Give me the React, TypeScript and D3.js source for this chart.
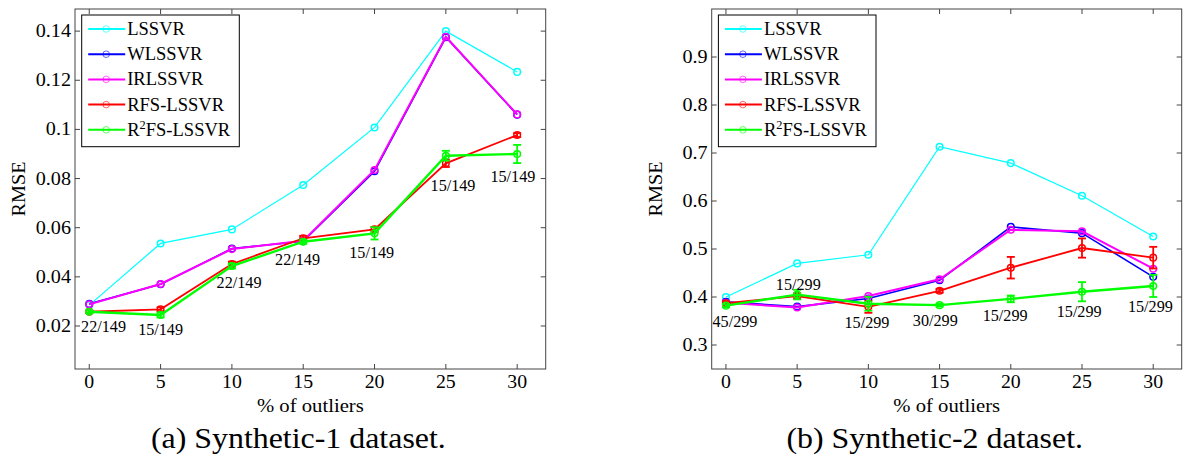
import React from "react";
import * as d3 from "d3";

// x values (% of outliers) shared by both panels
const outliers = [0, 5, 10, 15, 20, 25, 30];
const methods = ["LSSVR", "WLSSVR", "IRLSSVR", "RFS-LSSVR", "R2FS-LSSVR"];
const colors = ["#00ffff", "#0000ff", "#ff00ff", "#ff0000", "#00ff00"];
const widths = [1.2, 1.6, 2, 1.8, 2.4];

// Synthetic-1
const syn1LSSVR = [0.0285, 0.0536, 0.0593, 0.0774, 0.1008, 0.14, 0.1234];
const syn1WLSSVR = [0.029, 0.037, 0.0515, 0.0545, 0.083, 0.1375, 0.106];
const syn1IRLSSVR = [0.0288, 0.0371, 0.0513, 0.0547, 0.0835, 0.1377, 0.1061];
const syn1RFS = [0.0258, 0.0268, 0.0452, 0.0557, 0.0593, 0.0862, 0.0977];
const syn1RFSErr = [0.0005, 0.0008, 0.001, 0.001, 0.001, 0.0015, 0.0008];
const syn1R2FS = [0.0258, 0.0245, 0.0444, 0.0543, 0.0577, 0.0893, 0.09];
const syn1R2FSErr = [0.0005, 0.001, 0.001, 0.0008, 0.0025, 0.002, 0.0037];
const syn1Labels = ["22/149", "15/149", "22/149", "22/149", "15/149", "15/149", "15/149"];
const syn1LabelX = [1.0, 5.0, 10.5, 14.6, 19.8, 25.5, 29.7];
const syn1LabelY = [0.0177, 0.0163, 0.0353, 0.0448, 0.0475, 0.075, 0.0787];
const syn1Ticks = [0.02, 0.04, 0.06, 0.08, 0.1, 0.12, 0.14];

// Synthetic-2
const syn2LSSVR = [0.4, 0.47, 0.488, 0.713, 0.679, 0.611, 0.526];
const syn2WLSSVR = [0.39, 0.38, 0.397, 0.435, 0.546, 0.533, 0.442];
const syn2IRLSSVR = [0.388, 0.378, 0.402, 0.437, 0.54, 0.537, 0.459];
const syn2RFS = [0.387, 0.402, 0.3795, 0.413, 0.461, 0.502, 0.482];
const syn2RFSErr = [0.003, 0.006, 0.0125, 0.004, 0.0225, 0.02, 0.0225];
const syn2R2FS = [0.382, 0.405, 0.386, 0.383, 0.396, 0.411, 0.423];
const syn2R2FSErr = [0.003, 0.01, 0.0145, 0.003, 0.007, 0.02, 0.023];
const syn2Labels = ["45/299", "15/299", "15/299", "30/299", "15/299", "15/299", "15/299"];
const syn2LabelX = [0.63, 5.08, 9.9, 14.7, 19.6, 24.8, 29.8];
const syn2LabelY = [0.338, 0.4156, 0.3347, 0.3394, 0.3504, 0.3575, 0.3691];
const syn2Ticks = [0.3, 0.4, 0.5, 0.6, 0.7, 0.8, 0.9];

const FONT = "'Liberation Serif', Tinos, 'DejaVu Serif', serif";
const AXIS = "#444";

const T = ({ x, y, sx = 1, size, anchor = "start", rot = 0, children }: any) => (
  <text
    transform={`translate(${x},${y}) rotate(${rot}) scale(${sx},1)`}
    style={{ fontFamily: FONT, fontSize: size }}
    textAnchor={anchor}
    fill="#000"
  >
    {children}
  </text>
);

const Panel = ({ left, right, yDomain, yTicks, series, errs, labels, labelX, labelY, caption }: any) => {
  const top = 9;
  const bottom = 369;
  const x = d3.scaleLinear().domain([-1, 32]).range([left, right]);
  const y = d3.scaleLinear().domain(yDomain).range([bottom, top]);
  const line = d3
    .line<number>()
    .x((_, i) => x(outliers[i]))
    .y((d) => y(d));
  const tk = 5;
  const fmt = (v: number) => String(+v.toFixed(2));
  const cx = (left + right) / 2;

  return (
    <g>
      {/* ticks, inward on all four sides */}
      {outliers.map((o) => (
        <g key={"xt" + o}>
          <line x1={x(o)} x2={x(o)} y1={bottom} y2={bottom - tk} stroke={AXIS} />
          <line x1={x(o)} x2={x(o)} y1={top} y2={top + tk} stroke={AXIS} />
          <T x={x(o)} y={388} size={18} sx={1.1} anchor="middle">
            {o}
          </T>
        </g>
      ))}
      {yTicks.map((t: number) => (
        <g key={"yt" + t}>
          <line x1={left} x2={left + tk} y1={y(t)} y2={y(t)} stroke={AXIS} />
          <line x1={right} x2={right - tk} y1={y(t)} y2={y(t)} stroke={AXIS} />
          <T x={left - 4} y={y(t) + 6} size={18} sx={1.12} anchor="end">
            {fmt(t)}
          </T>
        </g>
      ))}

      {/* series */}
      {series.map((s: number[], k: number) => (
        <g key={"s" + k}>
          <path d={line(s) || ""} fill="none" stroke={colors[k]} strokeWidth={widths[k]} />
          {errs[k] &&
            s.map((v, i) => (
              <g key={i} stroke={colors[k]} strokeWidth={1.8}>
                <line x1={x(outliers[i])} x2={x(outliers[i])} y1={y(v - errs[k][i])} y2={y(v + errs[k][i])} />
                <line x1={x(outliers[i]) - 4} x2={x(outliers[i]) + 4} y1={y(v - errs[k][i])} y2={y(v - errs[k][i])} />
                <line x1={x(outliers[i]) - 4} x2={x(outliers[i]) + 4} y1={y(v + errs[k][i])} y2={y(v + errs[k][i])} />
              </g>
            ))}
          {s.map((v, i) => (
            <circle key={"m" + i} cx={x(outliers[i])} cy={y(v)} r={3.3} fill="none" stroke={colors[k]} strokeWidth={1.5} />
          ))}
        </g>
      ))}

      {/* annotations */}
      {labels.map((l: string, i: number) => (
        <T key={"a" + i} x={x(labelX[i])} y={y(labelY[i])} size={16.5} sx={0.98} anchor="middle">
          {l}
        </T>
      ))}

      {/* box */}
      <rect x={left} y={top} width={right - left} height={bottom - top} fill="none" stroke={AXIS} strokeWidth={1} />

      {/* legend */}
      <g transform={`translate(${left + 6.7},15)`}>
        <rect x={0} y={0} width={157.6} height={131.7} fill="#fff" stroke="#000" strokeWidth={1} />
        {methods.map((m, k) => (
          <g key={"l" + k} transform={`translate(0,${14 + k * 25.2})`}>
            <line x1={6.5} x2={43.5} y1={0} y2={0} stroke={colors[k]} strokeWidth={2} />
            <circle cx={24.5} cy={0} r={3.3} fill="none" stroke={colors[k]} strokeWidth={1} opacity={0.6} />
            <T x={45.5} y={6} size={18} sx={1.03}>
              {m === "R2FS-LSSVR" ? (
                <>
                  R<tspan style={{ fontSize: 12 }} dy={-7}>2</tspan>
                  <tspan dy={7}>FS-LSSVR</tspan>
                </>
              ) : (
                m
              )}
            </T>
          </g>
        ))}
      </g>

      {/* axis labels */}
      <T x={cx} y={411.5} size={18} sx={1.15} anchor="middle">
        % of outliers
      </T>
      <T x={left - 50} y={(top + bottom) / 2} size={18} sx={1.12} anchor="middle" rot={-90}>
        RMSE
      </T>
      <T x={cx - 12} y={448} size={29} sx={1.1} anchor="middle">
        {caption}
      </T>
    </g>
  );
};

export default function App() {
  return (
    <svg
      width={1184}
      height={464}
      style={{ position: "absolute", left: 0, top: 0, background: "#fff" }}
    >
      <rect width={1184} height={464} fill="#fff" />
      <Panel
        left={75}
        right={545.7}
        yDomain={[0.0025, 0.149]}
        yTicks={syn1Ticks}
        series={[syn1LSSVR, syn1WLSSVR, syn1IRLSSVR, syn1RFS, syn1R2FS]}
        errs={[null, null, null, syn1RFSErr, syn1R2FSErr]}
        labels={syn1Labels}
        labelX={syn1LabelX}
        labelY={syn1LabelY}
        caption="(a) Synthetic-1 dataset."
      />
      <Panel
        left={711.7}
        right={1181.7}
        yDomain={[0.25, 1.0]}
        yTicks={syn2Ticks}
        series={[syn2LSSVR, syn2WLSSVR, syn2IRLSSVR, syn2RFS, syn2R2FS]}
        errs={[null, null, null, syn2RFSErr, syn2R2FSErr]}
        labels={syn2Labels}
        labelX={syn2LabelX}
        labelY={syn2LabelY}
        caption="(b) Synthetic-2 dataset."
      />
    </svg>
  );
}
